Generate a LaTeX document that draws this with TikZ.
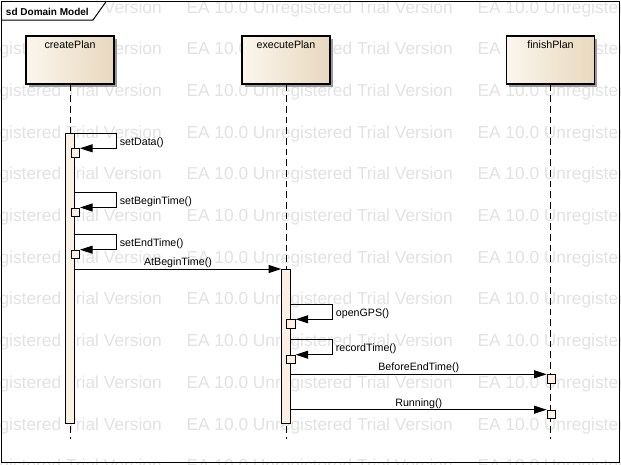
\documentclass[tikz,border=0pt]{standalone}
\usepackage{fontspec}
\setmainfont{Liberation Sans}
\usetikzlibrary{positioning,arrows.meta,shadows}
\definecolor{headL}{RGB}{251,246,237}
\definecolor{headM}{RGB}{246,237,222}
\definecolor{headR}{RGB}{232,216,190}
\definecolor{barfill}{RGB}{251,240,228}
\definecolor{wmark}{RGB}{226,226,226}

\begin{document}
\begin{tikzpicture}[x=0.75pt,y=-0.75pt,line width=0.75pt,
    font=\fontsize{8}{9.6}\selectfont,
    wmtext/.style={anchor=base west,inner sep=0pt,text=wmark,font=\fontsize{13}{15}\selectfont},
    framelbl/.style={anchor=base west,inner sep=0pt,font=\bfseries\fontsize{7.5}{9}\selectfont},
    headbox/.style={draw,line width=0.8pt,minimum width=66pt,minimum height=36pt,inner sep=0pt,
      left color=headL,middle color=headM,right color=headR,
      drop shadow={shadow xshift=2.2pt,shadow yshift=-2.2pt,fill=black!40,opacity=1}},
    headlbl/.style={inner sep=0pt},
    lifeline/.style={dash pattern=on 5pt off 3pt},
    actbar/.style={draw,fill=barfill,minimum width=6.4pt,inner sep=0pt,anchor=north},
    retbox/.style={draw,fill=barfill,minimum size=6.2pt,inner sep=0pt,anchor=north west},
    msg/.style={-{Triangle[length=9.5pt,width=6pt]}},
    msglbl/.style={inner sep=0pt}]
 \useasboundingbox (0,0) rectangle (621,464);
 \clip (0,0) rectangle (621,464);
 % watermark
 \foreach \r in {0,...,11}
  \foreach \c in {0,1,2}
   \node[wmtext] (wm-\r-\c) at ({-105+291*\c},{13+41.7*\r}) {EA 10.0 Unregistered Trial Version};
 % frame
 \fill[white] (1.7,1.7) -- (1.7,20) -- (93,20) -- (106,1.7) -- cycle;
 \draw (1.7,1.7) rectangle (619.7,462.3);
 \draw (1.7,20) -- (93,20) -- (106,1.7);
 \node[framelbl] (frameLbl) at (5.5,15) {sd Domain Model};
 % lifelines
 \foreach \n/\x in {createPlan/70,executePlan/286,finishPlan/550.5}{
   \coordinate (\n-end) at (\x,439);
   \node[headbox] (\n) at (\x,60) {};
   \node[headlbl,below=3.6pt of \n.north] (\n-lbl) {\n};
   \draw[lifeline] (\n.south) -- (\n-end);
 }
 \node[actbar,minimum height=217.5pt] (createBar) at (70,133) {};
 \node[actbar,minimum height=115.5pt] (executeBar) at (286,269) {};
 % self calls
 \foreach \b/\n/\x/\y in {createBar/setData/70.7/148.3,createBar/setBeginTime/70.7/207.5,
     createBar/setEndTime/70.7/249.7,executeBar/openGPS/286.3/319.3,executeBar/recordTime/286.3/354.7}{
   \node[retbox] (\n) at (\x,\y) {};
   \draw[msg] ([yshift=11.25pt]\n.north -| \b.east) -- ++(41.3,0) coordinate (\n-turn) |- (\n.north east);
   \node[msglbl,anchor=base west] (\n-lbl) at ([xshift=2.5pt,yshift=-9.2pt]\n-turn) {\n()};
 }
 % calls
 \node[retbox] (beforeEndRet) at (546.7,374.3) {};
 \node[retbox] (runningRet) at (546.7,409.7) {};
 \draw[msg] (createBar.east |- executeBar.north) --
   node[msglbl,anchor=base,yshift=2.7pt] (atBeginLbl) {AtBeginTime()} (executeBar.north west);
 \draw[msg] (executeBar.east |- beforeEndRet.north) --
   node[msglbl,anchor=base,yshift=2.7pt] (beforeEndLbl) {BeforeEndTime()} (beforeEndRet.north west);
 \draw[msg] (executeBar.east |- runningRet.north) --
   node[msglbl,anchor=base,yshift=2.7pt] (runningLbl) {Running()} (runningRet.north west);
\end{tikzpicture}
\end{document}
